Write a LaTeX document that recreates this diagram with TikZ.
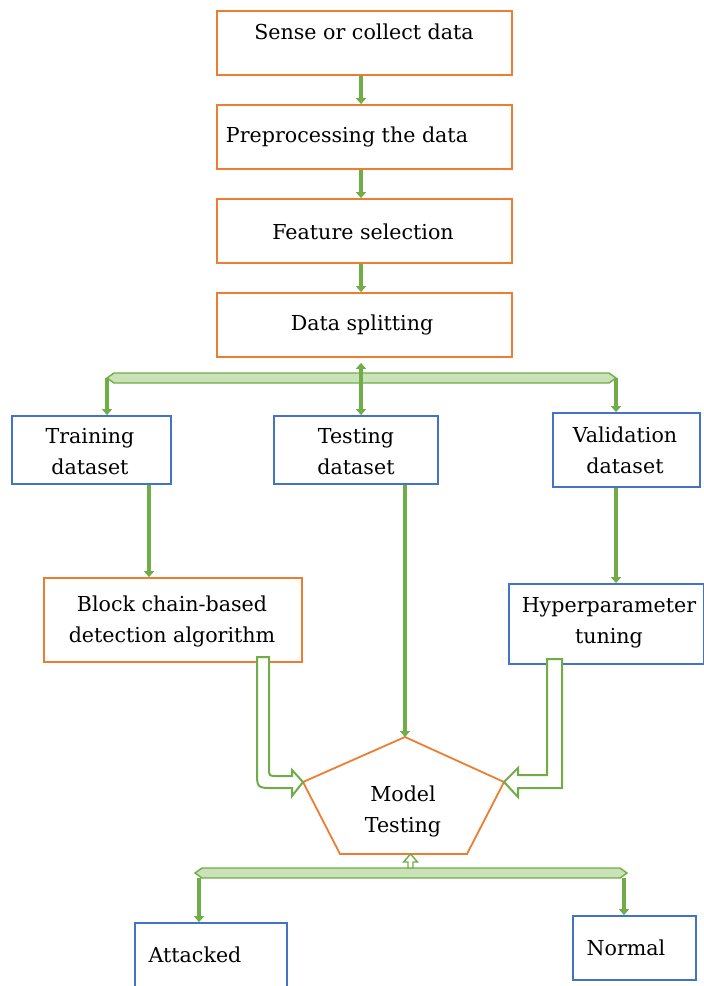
\documentclass[tikz,border=0pt]{standalone}
\usepackage{fontspec}
\setmainfont{DejaVu Serif}
\usetikzlibrary{arrows.meta}
\definecolor{boxorange}{HTML}{ED7D31}
\definecolor{boxblue}{HTML}{4472C4}
\definecolor{flowgreen}{HTML}{70AD47}
\definecolor{flowlight}{HTML}{C9E2B8}

\begin{document}
\begin{tikzpicture}[x=1pt,y=-1pt,
  obox/.style={draw=boxorange, line width=1.8pt, fill=white, inner sep=0pt},
  bbox/.style={draw=boxblue, line width=1.8pt, fill=white, inner sep=0pt},
  txt/.style={font=\fontsize{20.6}{31}\selectfont, align=center, inner sep=0pt},
  flow/.style={draw=flowgreen, line width=3.4pt, -{Triangle[width=10pt,length=6pt]}},
  band/.style={draw=flowgreen, line width=1.4pt, fill=flowlight, line join=miter},
  bent/.style={draw=flowgreen, line width=2pt, fill=white, line join=miter}]

% page frame
\useasboundingbox (0,0) rectangle (704,986);

% ---- processing pipeline ----
\node[obox, minimum width=295pt, minimum height=64pt] (sense) at (364.5,43) {};
\node[txt] (senseT) at (364,32) {Sense or collect data};
\node[obox, minimum width=295pt, minimum height=64pt] (prep) at (364.5,137) {};
\node[txt] (prepT) at (347,137) {Preprocessing the data};
\node[obox, minimum width=295pt, minimum height=64pt] (feat) at (364.5,231) {};
\node[txt] (featT) at (363,232) {Feature selection};
\node[obox, minimum width=295pt, minimum height=64pt] (split) at (364.5,325) {};
\node[txt] (splitT) at (362,325) {Data splitting};

\draw[flow] ([xshift=-3.5pt]sense.south) -- ([xshift=-3.5pt]prep.north);
\draw[flow] ([xshift=-3.5pt]prep.south) -- ([xshift=-3.5pt]feat.north);
\draw[flow] ([xshift=-3.5pt]feat.south) -- ([xshift=-3.5pt]split.north);

% ---- datasets ----
\node[bbox, minimum width=159pt, minimum height=68pt] (train) at (91.5,450) {};
\node[txt] (trainT) at (90,452) {Training\\dataset};
\node[bbox, minimum width=164pt, minimum height=68pt] (test) at (356,450) {};
\node[txt] (testT) at (356,452) {Testing\\dataset};
\node[bbox, minimum width=147pt, minimum height=74pt] (valid) at (626.5,450) {};
\node[txt] (validT) at (625,450) {Validation\\dataset};

% split bus: a light band with pointed ends
\coordinate (busL) at (107,378);
\coordinate (busC) at (361,378);
\coordinate (busR) at (616,378);
\draw[band] (busL) -- ([shift={(7,-5)}]busL) -- ([shift={(-7,-5)}]busR) -- (busR)
  -- ([shift={(-7,5)}]busR) -- ([shift={(7,5)}]busL) -- cycle;
\draw[flow] ([yshift=-4pt]busC) -- ([yshift=-5pt]busC |- split.south);
\draw[flow] (busL) -- (busL |- train.north);
\draw[flow] (busC) -- (busC |- test.north);
\draw[flow] (busR) -- (busR |- valid.north);

% ---- second stage ----
\node[obox, minimum width=258pt, minimum height=84pt] (block) at (173,620) {};
\node[txt] (blockT) at (172,621) {Block chain-based\\detection algorithm};
\node[bbox, minimum width=195pt, minimum height=80pt] (hyper) at (606.5,624) {};
\node[txt] (hyperT) at (609,623) {Hyperparameter\\tuning};

\draw[flow] ([xshift=57.5pt]train.south) -- ([xshift=57.5pt]train.south |- block.north);
\draw[flow] (busR |- valid.south) -- (busR |- hyper.north);

% ---- model testing pentagon ----
\coordinate (pT) at (405,737);
\coordinate (pL) at (303,782);
\coordinate (pBL) at (340,854);
\coordinate (pBR) at (467,854);
\coordinate (pR) at (504,782);
\draw[boxorange, line width=1.8pt, line join=miter] (pT) -- (pR) -- (pBR) -- (pBL) -- (pL) -- cycle;
\node[txt] (model) at (403,811) {Model\\Testing};

\draw[flow] ([xshift=49pt]test.south) -- (pT);

% bent block arrow from the detection algorithm
\draw[bent] (269,657) -- (269,768) .. controls (269,776) .. (277,776)
  -- (292,776) -- (292,770) -- (pL) -- (292,796) -- (292,788)
  -- (274,788) .. controls (257,788) .. (257,771) -- (257,657) -- cycle;

% bent block arrow from hyperparameter tuning
\draw[bent] (547,659) -- (562,659) -- (562,788) -- (518,788) -- (518,797)
  -- (pR) -- (518,768) -- (518,775) -- (547,775) -- cycle;

% ---- outcome ----
\node[bbox, minimum width=152pt, minimum height=70pt] (attack) at (211,958) {};
\node[txt] (attackT) at (195,955) {Attacked};
\node[bbox, minimum width=123pt, minimum height=64pt] (normal) at (634.5,948) {};
\node[txt] (normalT) at (626,948) {Normal};

\coordinate (bus2L) at (195,873);
\coordinate (bus2C) at (410.5,873);
\coordinate (bus2R) at (627,873);
\draw[band] (bus2L) -- ([shift={(7,-5)}]bus2L) -- ([shift={(-7,-5)}]bus2R) -- (bus2R)
  -- ([shift={(-7,5)}]bus2R) -- ([shift={(7,5)}]bus2L) -- cycle;
% hollow arrow up into the pentagon
\draw[bent, line width=1.4pt] ([shift={(-2.5,-5)}]bus2C) -- ([shift={(-2.5,0)}]bus2C |- 0,862)
  -- ([shift={(-7,0)}]bus2C |- 0,862) -- (bus2C |- pBL) -- ([shift={(7,0)}]bus2C |- 0,862)
  -- ([shift={(2.5,0)}]bus2C |- 0,862) -- ([shift={(2.5,-5)}]bus2C) -- cycle;
\draw[flow] ([shift={(4,5)}]bus2L) -- ([xshift=4pt]bus2L |- attack.north);
\draw[flow] ([shift={(-3,5)}]bus2R) -- ([xshift=-3pt]bus2R |- normal.north);
\end{tikzpicture}
\end{document}
